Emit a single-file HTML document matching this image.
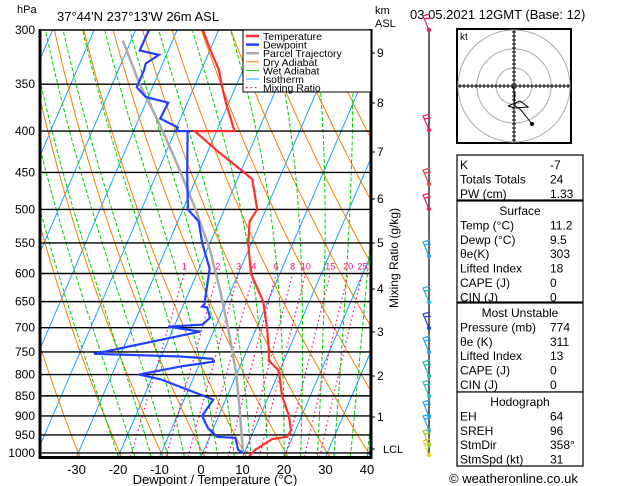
<!DOCTYPE html>
<html><head><meta charset="utf-8"><style>
body{margin:0;background:#fff;}
svg{display:block;font-family:"Liberation Sans",sans-serif;}
</style></head><body>
<svg id="c" width="629" height="486" viewBox="0 0 629 486" xmlns="http://www.w3.org/2000/svg">
<defs><clipPath id="pc"><rect x="40" y="30" width="331" height="427"/></clipPath></defs>
<g id="bg" clip-path="url(#pc)"></g>
<g id="iso"></g>
<g id="series" clip-path="url(#pc)"></g>
<g id="axes"></g>
<g id="right"></g>
</svg>
<script>
// ---- data ----
const pressureLevels=[300,350,400,450,500,550,600,650,700,750,800,850,900,950,1000];
const tempTicks=[-30,-20,-10,0,10,20,30,40];
const kmTicks=[9,8,7,6,5,4,3,2,1];
const kmTickY=[53,103,152,199,243,289,332,376,417];
const tempP=[300,318,336,350,369,400,400,425,450,459,500,517,550,600,650,700,750,769,789,800,850,898,937,955,961,991,1011];
const tempT=[-43.8,-39.8,-35.8,-33.7,-30.7,-25.7,-35.3,-27.2,-19.1,-16.4,-12.1,-12.7,-10.8,-7.0,-1.1,2.5,5.5,6.3,9.5,10.3,13.2,16.8,18.9,18.7,15.3,12.3,11.5];
const dewP=[300,318,322,330,336,353,363,369,386,396,400,400,450,500,517,550,592,600,655,659,661,680,694,698,708,754,760,765,771,781,800,811,859,900,932,955,958,991,1000];
const dewT=[-56.8,-56.9,-51.8,-54.1,-53.8,-53.8,-50.6,-44.6,-44.9,-39.7,-39.7,-37.0,-32.8,-28.8,-25.0,-21.9,-17.4,-17.1,-15.0,-15.3,-14.0,-12.3,-13.3,-21.4,-13.1,-36.5,-15.4,-7.4,-6.8,-13.8,-23.5,-17.7,-3.0,-4.0,-1.3,1.8,6.3,8.2,9.7];
const parcelP=[1000,900,800,700,629,561,501,434,388,350,309];
const parcelT=[9.7,5.2,0.0,-6.9,-12.7,-19.3,-26.8,-37.0,-45.3,-53.4,-62.0];
const mixRatios=[1,2,3,4,6,8,10,15,20,25];
const tableRows1=[["K","-7"],["Totals Totals","24"],["PW (cm)","1.33"]];
const tableSurface=[["Temp (°C)","11.2"],["Dewp (°C)","9.5"],["θe(K)","303"],["Lifted Index","18"],["CAPE (J)","0"],["CIN (J)","0"]];
const tableMU=[["Pressure (mb)","774"],["θe (K)","311"],["Lifted Index","13"],["CAPE (J)","0"],["CIN (J)","0"]];
const tableHodo=[["EH","64"],["SREH","96"],["StmDir","358°"],["StmSpd (kt)","31"]];

const NS="http://www.w3.org/2000/svg";
function Y(p){return 30+Math.log(p/300)*351.3;}
function X(T,p){return 201+4.15*T+0.43*(457-Y(p));}
function mk(tag,attrs,parent){const e=document.createElementNS(NS,tag);for(const k in attrs)e.setAttribute(k,attrs[k]);parent.appendChild(e);return e;}
function txt(s,x,y,parent,extra){const t=mk('text',Object.assign({x:x,y:y,'font-size':12,fill:'#000'},extra||{}),parent);t.textContent=s;return t;}
const bg=document.getElementById('bg'),iso=document.getElementById('iso'),ser=document.getElementById('series'),ax=document.getElementById('axes'),rt=document.getElementById('right');
function polyPT(P,T,stroke,w,dash,parent,name){
  const pts=P.map((p,i)=>X(T[i],p).toFixed(1)+','+Y(p).toFixed(1)).join(' ');
  const e=mk('polyline',{points:pts,fill:'none',stroke:stroke,'stroke-width':w},parent);
  if(dash)e.setAttribute('stroke-dasharray',dash);
  
  
  return e;
}
// isotherms
for(let T=-110;T<=40;T+=10){
  const l=mk('line',{x1:X(T,1011),y1:Y(1011),x2:X(T,300),y2:Y(300),stroke:'#1aa0ff','stroke-width':1},bg);
  
  
}
// dry adiabats
const ps=[];for(let p=1011;p>=300;p-=10)ps.push(p);ps.push(300);
for(let th=-40;th<=200;th+=10){
  const T=ps.map(p=>(th+273.15)*Math.pow(p/1000,0.286)-273.15);
  polyPT(ps,T,'#f08000',1,null,bg,'dry-adiabat');
}
// wet adiabats
function es(T){return 6.112*Math.exp(17.67*T/(T+243.5));}
function moistLapse(T,p){const Tk=T+273.15,e=es(T),r=0.622*e/(p-e);const num=287*Tk+2.5e6*r;const den=1004+2.5e6*2.5e6*r*0.622/(287*Tk*Tk);return num/den/p;}
for(let T0=-20;T0<=40;T0+=4){
  let T=T0;const P=[],TT=[];
  for(let p=1011;p>=300;p-=5){P.push(p);TT.push(T);T-=moistLapse(T,p)*5;}
  polyPT(P,TT,'#00cc00',1,'4,2',bg,'wet-adiabat');
}
// mixing ratio
mixRatios.forEach(w=>{
  const P=[],T=[];
  for(let p=1011;p>=600;p-=10){const e=w*p/(622+w);const l=Math.log(e/6.112);P.push(p);T.push(243.5*l/(17.67-l));}
  polyPT(P,T,'#ff0080',1.2,'1.5,3',bg,'mixing-ratio-line');
  const e=w*600/(622+w),l=Math.log(e/6.112),Td=243.5*l/(17.67-l);
  const t=txt(String(w),X(Td,600),Y(600)-4,bg,{'font-size':9,fill:'#ff0080','text-anchor':'middle'});
  
  
});
// isobars
pressureLevels.forEach(p=>{
  const l=mk('line',{x1:40,y1:Y(p),x2:371,y2:Y(p),stroke:'#000','stroke-width':1.4},iso);
  
  
  const t=txt(String(p),35,Y(p)+4,ax,{'text-anchor':'end'});
  
  
});
// series
polyPT(parcelP,parcelT,'#aaaaaa',2.5,null,ser,'parcel-trajectory');
polyPT(dewP,dewT,'#2040ff',2.2,null,ser,'dewpoint-line');
polyPT(tempP,tempT,'#ff3030',2.2,null,ser,'temperature-line');
// frame
mk('rect',{x:40,y:30,width:331,height:427,fill:'none',stroke:'#000','stroke-width':1},ax);
mk('line',{x1:40,y1:29,x2:40,y2:459,stroke:'#000','stroke-width':3},ax);
mk('line',{x1:371,y1:29,x2:371,y2:459,stroke:'#000','stroke-width':3},ax);
mk('line',{x1:39,y1:457.5,x2:372,y2:457.5,stroke:'#000','stroke-width':3},ax);
tempTicks.forEach(T=>{
  const x=201+4.15*T;
  const t=txt(String(T),x,474,ax,{'text-anchor':'middle','font-size':13});
  
  
});
txt('Dewpoint / Temperature (°C)',215,484,ax,{'text-anchor':'middle','font-size':13});
txt('hPa',17,13,ax,{'font-size':11});
txt("37°44'N  237°13'W  26m  ASL",57,21,ax,{'font-size':13});
txt('km',375,14,ax,{'font-size':11});
txt('ASL',375,27,ax,{'font-size':11});
kmTicks.forEach((k,i)=>{
  mk('line',{x1:371,y1:kmTickY[i],x2:375,y2:kmTickY[i],stroke:'#000'},ax);
  const t=txt(String(k),377,kmTickY[i]+4,ax,{'font-size':12});
  
  
});
mk('line',{x1:371,y1:449,x2:375,y2:449,stroke:'#000'},ax);
txt('LCL',383,453,ax,{'font-size':11});
txt('Mixing Ratio (g/kg)',0,0,ax,{'font-size':12,transform:'translate(398,258) rotate(-90)','text-anchor':'middle'});
// legend
const leg=mk('g',{},ax);
mk('rect',{x:243,y:30,width:128,height:62,fill:'#fff',stroke:'#000'},leg);
const legItems=[["Temperature",'#ff3030',2.5,null],["Dewpoint",'#2040ff',2.5,null],["Parcel Trajectory",'#aaaaaa',2.5,null],["Dry Adiabat",'#f08000',1,null],["Wet Adiabat",'#00cc00',1,null],["Isotherm",'#1aa0ff',1,null],["Mixing Ratio",'#ff0080',1.2,'1.5,3']];
legItems.forEach((it,i)=>{
  const y=36+i*8.6;
  const l=mk('line',{x1:246,y1:y,x2:259,y2:y,stroke:it[1],'stroke-width':it[2]},leg);
  if(it[3])l.setAttribute('stroke-dasharray',it[3]);
  const t=txt(it[0],263,y+4,leg,{'font-size':10.5});
  
  
});
// right panel
txt('03.05.2021 12GMT (Base: 12)',410,19,rt,{'font-size':13});
// wind column
mk('line',{x1:429,y1:30,x2:429,y2:455,stroke:'#000','stroke-width':1.2},rt);
const barbs=[[30,'#e0206a'],[130,'#e0206a'],[184,'#f04040'],[209,'#e0206a'],[256,'#28a0f0'],[302,'#20b8d0'],[328,'#2040e0'],[352,'#28a0f0'],[376,'#20c0b0'],[396,'#20c0b0'],[416,'#28a0f0'],[430,'#28a0f0'],[445,'#90d020'],[455,'#e8d020']];
barbs.forEach(b=>{
  const g=mk('g',{},rt);
  mk('circle',{cx:429,cy:b[0],r:2.2,fill:b[1]},g);
  mk('polyline',{points:`429,${b[0]} 423,${b[0]-14} 430,${b[0]-16}`,fill:'none',stroke:b[1],'stroke-width':1.2},g);
  mk('line',{x1:424,y1:b[0]-11,x2:431,y2:b[0]-12,stroke:b[1],'stroke-width':1.2},g);
});
// hodograph
const hg=mk('g',{},rt);
mk('rect',{x:457,y:29,width:114,height:114,fill:'#fff',stroke:'#000','stroke-width':2},hg);
[18,37,56].forEach(r=>mk('circle',{cx:514,cy:86,r:r,fill:'none',stroke:'#aaa'},hg));
mk('line',{x1:458,y1:86,x2:570,y2:86,stroke:'#000'},hg);
mk('line',{x1:514,y1:30,x2:514,y2:142,stroke:'#000'},hg);
for(let d=-54;d<=54;d+=4){mk('line',{x1:514+d,y1:84,x2:514+d,y2:88,stroke:'#000'},hg);mk('line',{x1:512,y1:86+d,x2:516,y2:86+d,stroke:'#000'},hg);}
txt('kt',460,40,hg,{'font-size':10});
mk('polyline',{points:'512,85 515,94 514,105 521,110 532,124',fill:'none',stroke:'#000'},hg);
mk('circle',{cx:532,cy:124,r:2,fill:'#000'},hg);
mk('polyline',{points:'508,106 520,101 528,107 515,108 508,106',fill:'none',stroke:'#000'},hg);
// tables
function table(x,y,w,h,rows,title,name){
  const g=mk('g',{},rt);
  mk('rect',{x:x,y:y,width:w,height:h,fill:'#fff',stroke:'#000','stroke-width':1.2},g);
  let yy=y+14;
  if(title){txt(title,x+w/2,yy,g,{'text-anchor':'middle','font-size':12});yy+=14.4;}
  rows.forEach(r=>{txt(r[0],x+3,yy,g,{'font-size':12});txt(r[1],x+93,yy,g,{'font-size':12});yy+=14.4;});
}
table(457,155,126,45,tableRows1,null,'indices-table');
table(457,201,126,101,tableSurface,'Surface','surface-table');
table(457,303,126,89,tableMU,'Most Unstable','most-unstable-table');
table(457,392,126,74,tableHodo,'Hodograph','hodograph-table');
txt('© weatheronline.co.uk',449,483,rt,{'font-size':13});
</script>
</body></html>
